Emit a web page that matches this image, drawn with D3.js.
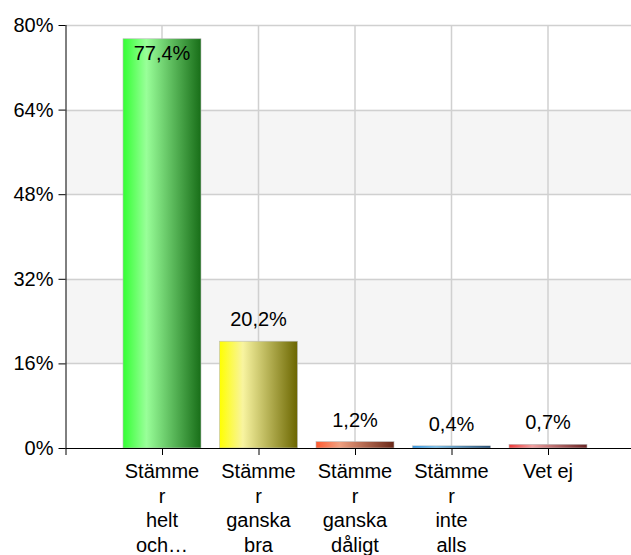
<!DOCTYPE html>
<html>
<head>
<meta charset="utf-8">
<script src="https://cdn.jsdelivr.net/npm/d3@7"></script>
<style>
  body { margin: 0; background: #fff; }
  text { font-family: "Liberation Sans", Arial, sans-serif; fill: #000; }
</style>
</head>
<body>
<svg width="631" height="555"></svg>
<script>
// data
var categories = ["Stämmer helt och…", "Stämmer ganska bra", "Stämmer ganska dåligt", "Stämmer inte alls", "Vet ej"];
var tickLines = [["Stämme", "r", "helt", "och…"], ["Stämme", "r", "ganska", "bra"], ["Stämme", "r", "ganska", "dåligt"], ["Stämme", "r", "inte", "alls"], ["Vet ej"]];
var values = [77.4, 20.2, 1.2, 0.4, 0.7];
var valueLabels = ["77,4%", "20,2%", "1,2%", "0,4%", "0,7%"];
var yTicks = [0, 16, 32, 48, 64, 80];
// colour stops per bar: left, light, right
var barColors = [
  ["#33ff33", "#99ff99", "#186e18"],
  ["#ffff00", "#f8f4a0", "#6b6600"],
  ["#ff5a30", "#f0a080", "#6a2818"],
  ["#1a8fe8", "#70bff0", "#0a3a66"],
  ["#ee3a3a", "#f0a0a0", "#6a2424"]
];

var svg = d3.select("svg");
var pLeft = 65.5, pTop = 25, pBottom = 448, pRight = 631;
var step = 96.5;
var fs = "20px";

var x = d3.scalePoint()
  .domain(categories)
  .range([pLeft + step, pLeft + step * categories.length]);
var y = d3.scaleLinear().domain([0, 80]).range([pBottom, pTop]);
var barW = 78;

// gradients
var defs = svg.append("defs");
barColors.forEach(function(c, i) {
  var g = defs.append("linearGradient").attr("id", "g" + i)
    .attr("x1", "0%").attr("x2", "100%").attr("y1", "0%").attr("y2", "0%");
  g.append("stop").attr("offset", "0%").attr("stop-color", c[0]);
  g.append("stop").attr("offset", "30%").attr("stop-color", c[1]);
  g.append("stop").attr("offset", "100%").attr("stop-color", c[2]);
});

// alternating bands
for (var i = 0; i < yTicks.length - 1; i++) {
  if (i % 2 == 1) {
    svg.append("rect")
      .attr("x", pLeft).attr("width", pRight - pLeft)
      .attr("y", y(yTicks[i + 1])).attr("height", y(yTicks[i]) - y(yTicks[i + 1]))
      .style("fill", "#f5f5f5");
  }
}

// horizontal grid
svg.append("g").selectAll("line")
  .data(yTicks.slice(1))
  .enter().append("line")
  .attr("x1", pLeft).attr("x2", pRight)
  .attr("y1", function(d) { return Math.round(y(d)) + 0.5; })
  .attr("y2", function(d) { return Math.round(y(d)) + 0.5; })
  .style("stroke", "#d0d0d0").style("stroke-width", "1.5px");

// vertical grid
svg.append("g").selectAll("line")
  .data(categories)
  .enter().append("line")
  .attr("x1", function(d) { return x(d); }).attr("x2", function(d) { return x(d); })
  .attr("y1", pTop).attr("y2", pBottom)
  .style("stroke", "#d0d0d0").style("stroke-width", "1.5px");

// bars
svg.append("g").selectAll("rect")
  .data(values)
  .enter().append("rect")
  .attr("x", function(d, i) { return x(categories[i]) - barW / 2; })
  .attr("y", function(d) { return y(d); })
  .attr("width", barW)
  .attr("height", function(d) { return pBottom - y(d); })
  .style("fill", function(d, i) { return "url(#g" + i + ")"; })
  .style("stroke", "#bbbbbb")
  .style("stroke-width", "0.6px");

// value labels
svg.append("g").selectAll("text")
  .data(values)
  .enter().append("text")
  .attr("x", function(d, i) { return x(categories[i]); })
  .attr("y", function(d) {
    var ty = y(d);
    return (ty - 45 < pTop) ? ty + 21 : ty - 15;
  })
  .attr("text-anchor", "middle")
  .style("font-size", fs)
  .text(function(d, i) { return valueLabels[i]; });

// y axis
var yAxis = svg.append("g")
  .attr("transform", "translate(" + pLeft + ",0)")
  .call(d3.axisLeft(y).tickValues(yTicks).tickSize(7).tickPadding(5)
    .tickFormat(function(d) { return d + "%"; }));
yAxis.select(".domain").attr("d", "M0.5," + pTop + "V" + (pBottom + 7));
yAxis.selectAll("text").style("font-size", fs).style("font-family", "Liberation Sans, Arial, sans-serif");

// x axis
var xAxis = svg.append("g")
  .attr("transform", "translate(0," + pBottom + ")")
  .call(d3.axisBottom(x).tickSize(7).tickFormat(""));
xAxis.select(".domain").attr("d", "M" + pLeft + ",0.5H" + pRight);

var xl = svg.append("g").selectAll("text")
  .data(categories)
  .enter().append("text")
  .attr("x", function(d) { return x(d); })
  .attr("y", pBottom + 30)
  .attr("text-anchor", "middle")
  .style("font-size", fs);
xl.each(function(d, i) {
  var t = d3.select(this);
  tickLines[i].forEach(function(line, j) {
    t.append("tspan").attr("x", x(d)).attr("dy", j == 0 ? 0 : 24.5).text(line);
  });
});
</script>
</body>
</html>
